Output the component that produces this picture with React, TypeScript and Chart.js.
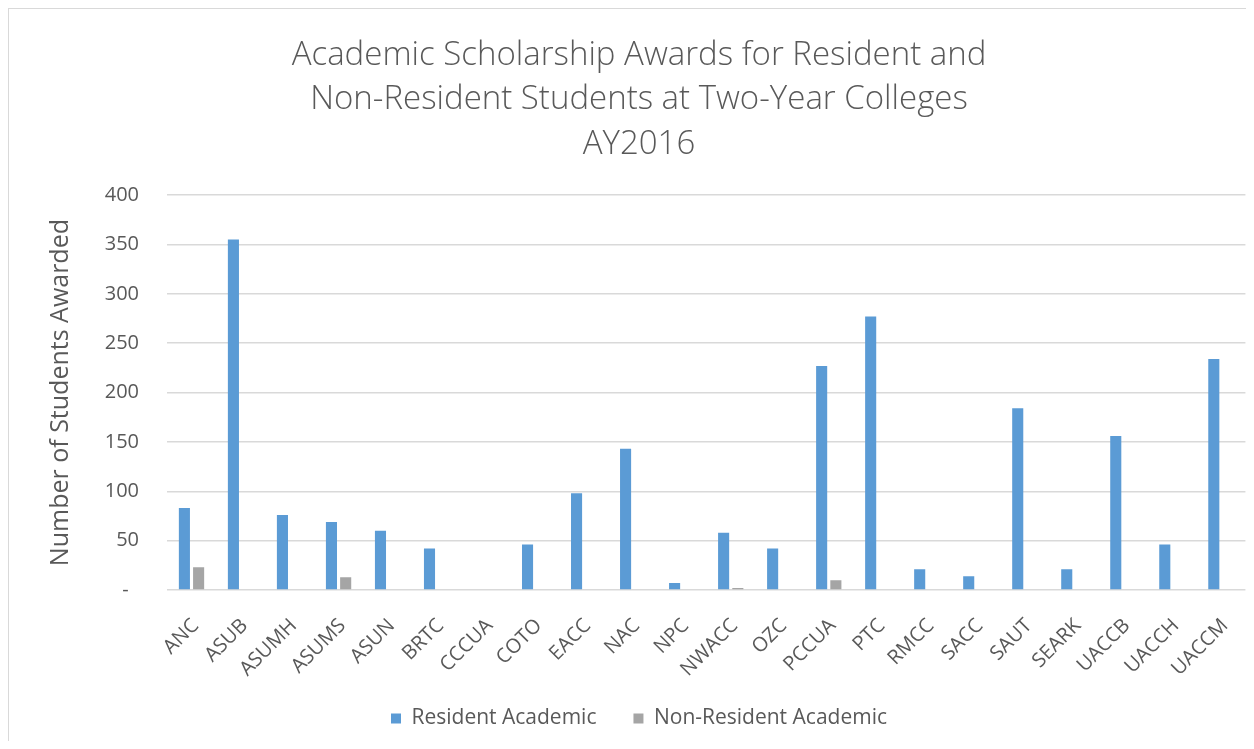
import React, { useEffect, useRef } from "react";
import { Chart, registerables } from "chart.js";

Chart.register(...registerables);

const categories = [
  "ANC", "ASUB", "ASUMH", "ASUMS", "ASUN", "BRTC", "CCCUA", "COTO", "EACC", "NAC", "NPC",
  "NWACC", "OZC", "PCCUA", "PTC", "RMCC", "SACC", "SAUT", "SEARK", "UACCB", "UACCH", "UACCM",
];
const residentAcademic = [83, 355, 76, 69, 60, 42, 0, 46, 98, 143, 7, 58, 42, 227, 277, 21, 14, 184, 21, 156, 46, 234];
const nonResidentAcademic = [23, 0, 0, 13, 0, 0, 0, 0, 0, 0, 0, 2, 0, 10, 0, 0, 0, 0, 0, 0, 0, 0];
const titleLines = [
  "Academic Scholarship Awards for Resident and",
  "Non-Resident Students at Two-Year Colleges",
  "AY2016",
];
const yAxisTitle = "Number of Students Awarded";
const seriesNames = ["Resident Academic", "Non-Resident Academic"];

const TEXT = "#595959";
const GRID = "#d9d9d9";
const FONT = "'Open Sans', 'Noto Sans', sans-serif";

export default function App() {
  const ref = useRef<HTMLCanvasElement | null>(null);
  useEffect(() => {
    if (!ref.current) return;
    const chart = new Chart(ref.current, {
      type: "bar",
      data: {
        labels: categories,
        datasets: [
          {
            label: seriesNames[0],
            data: residentAcademic,
            backgroundColor: "#5B9BD5",
            categoryPercentage: 0.58,
            barPercentage: 0.78,
          },
          {
            label: seriesNames[1],
            data: nonResidentAcademic,
            backgroundColor: "#A5A5A5",
            categoryPercentage: 0.58,
            barPercentage: 0.78,
          },
        ],
      },
      options: {
        responsive: false,
        animation: false,
        layout: { padding: { left: 20, right: 5, top: 0, bottom: 2 } },
        plugins: {
          title: {
            display: true,
            text: titleLines,
            color: TEXT,
            font: { family: FONT, size: 33, weight: 300 as any, lineHeight: 1.35 },
            padding: { top: 24, bottom: 28.5 },
          },
          legend: {
            position: "bottom",
            labels: {
              color: TEXT,
              font: { family: FONT, size: 21 },
              boxWidth: 10,
              boxHeight: 10,
              padding: 37,
            },
          },
          tooltip: { enabled: false },
        },
        scales: {
          x: {
            grid: { display: false },
            border: { display: false },
            ticks: {
              color: TEXT,
              font: { family: FONT, size: 20 },
              autoSkip: false,
              maxRotation: 45,
              minRotation: 45,
              padding: 16,
              labelOffset: 4,
            },
            afterFit: (s: any) => {
              s.height = 81;
              // let the rotated labels extend below the fixed-height axis box
              s._computeLabelArea = () => undefined;
            },
          },
          y: {
            min: 0,
            max: 400,
            grid: { color: GRID, lineWidth: 1.5, drawTicks: false },
            border: { display: false },
            ticks: {
              stepSize: 50,
              color: TEXT,
              font: { family: FONT, size: 20 },
              padding: 28,
              callback: (v: any) => (v === 0 ? "-  " : String(v)),
            },
            title: {
              display: true,
              text: yAxisTitle,
              color: TEXT,
              font: { family: FONT, size: 25 },
              padding: { top: 17, bottom: 0 },
            },
            afterFit: (s: any) => {
              s.width = 138;
            },
          },
        },
      },
    });
    return () => chart.destroy();
  }, []);
  return (
    <div
      style={{
        width: 1245,
        height: 732,
        borderLeft: `1px solid ${GRID}`,
        borderTop: `1px solid ${GRID}`,
        background: "#fff",
        overflow: "hidden",
      }}
    >
      <canvas ref={ref} width={1245} height={732} style={{ display: "block" }} />
    </div>
  );
}
